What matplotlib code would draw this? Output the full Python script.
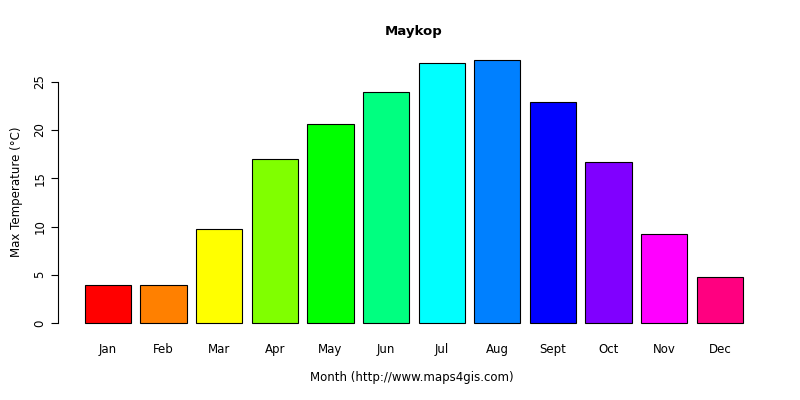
import matplotlib
matplotlib.use("Agg")
import matplotlib.pyplot as plt

months = ["Jan","Feb","Mar","Apr","May","Jun","Jul","Aug","Sept","Oct","Nov","Dec"]
values = [3.9, 3.9, 9.75, 17.0, 20.6, 23.9, 26.9, 27.3, 22.9, 16.7, 9.2, 4.8]
colors = ["#FF0000","#FF8000","#FFFF00","#80FF00","#00FF00","#00FF80",
          "#00FFFF","#0080FF","#0000FF","#8000FF","#FF00FF","#FF0080"]

fig = plt.figure(figsize=(8, 4), dpi=100)
ax = fig.add_axes([0.073, 0.166, 0.888, 0.714])
x = list(range(len(months)))
ax.bar(x, values, width=0.833, color=colors, edgecolor="black", linewidth=0.8)
ax.set_xlim(-0.89, 11.88)
ax.set_ylim(-1.1, 28.5)
for s in ["top", "right", "bottom"]:
    ax.spines[s].set_visible(False)
ax.spines["left"].set_bounds(0, 25)
ax.set_yticks([0, 5, 10, 15, 20, 25])
ax.set_yticklabels(["0", "5", "10", "15", "20", "25"], rotation=90, va="center", fontsize=8.5)
ax.set_xticks(x)
ax.set_xticklabels(months, fontsize=8.5)
ax.tick_params(axis="x", length=0, pad=7)
ax.tick_params(axis="y", length=5)
ax.set_title("Maykop", fontweight="bold", fontsize=9.5, pad=9)
fig.text(0.515, 0.055, "Month (http://www.maps4gis.com)", ha="center", va="center", fontsize=8.5)
fig.text(0.013, 0.52, "Max Temperature (°C)", rotation=90, va="center", fontsize=8.5)
fig.savefig("out.png", dpi=100)
